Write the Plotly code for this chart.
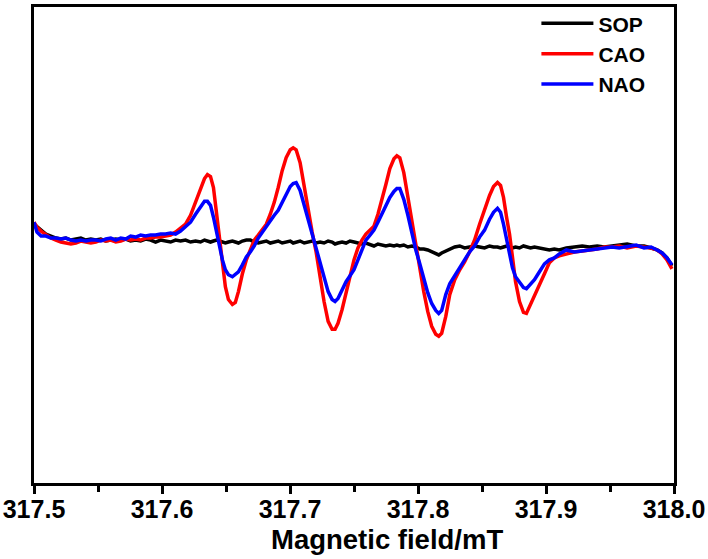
import plotly.graph_objects as go

# Magnetic field (mT), shared by the three spectra
field = [
    317.5000, 317.5023, 317.5055, 317.5093, 317.5132, 317.5171, 317.5210, 317.5249, 317.5288, 317.5327,
    317.5366, 317.5405, 317.5444, 317.5483, 317.5522, 317.5561, 317.5600, 317.5639, 317.5678, 317.5717,
    317.5755, 317.5794, 317.5833, 317.5872, 317.5911, 317.5950, 317.5989, 317.6028, 317.6067, 317.6106,
    317.6145, 317.6184, 317.6223, 317.6262, 317.6301, 317.6332, 317.6355, 317.6379, 317.6402, 317.6425,
    317.6449, 317.6472, 317.6495, 317.6519, 317.6550, 317.6573, 317.6597, 317.6628, 317.6659, 317.6690,
    317.6721, 317.6752, 317.6783, 317.6815, 317.6846, 317.6877, 317.6908, 317.6939, 317.6970, 317.7002,
    317.7025, 317.7048, 317.7079, 317.7111, 317.7142, 317.7173, 317.7204, 317.7235, 317.7266, 317.7298,
    317.7329, 317.7352, 317.7375, 317.7407, 317.7438, 317.7469, 317.7500, 317.7531, 317.7562, 317.7593,
    317.7625, 317.7656, 317.7687, 317.7718, 317.7749, 317.7780, 317.7812, 317.7835, 317.7858, 317.7889,
    317.7921, 317.7952, 317.7983, 317.8014, 317.8045, 317.8076, 317.8107, 317.8139, 317.8162, 317.8185,
    317.8217, 317.8248, 317.8287, 317.8326, 317.8364, 317.8403, 317.8442, 317.8481, 317.8520, 317.8559,
    317.8590, 317.8621, 317.8645, 317.8668, 317.8692, 317.8715, 317.8738, 317.8762, 317.8793, 317.8824,
    317.8847, 317.8879, 317.8910, 317.8949, 317.8988, 317.9026, 317.9065, 317.9104, 317.9159, 317.9221,
    317.9283, 317.9338, 317.9400, 317.9455, 317.9517, 317.9572, 317.9634, 317.9704, 317.9766, 317.9821,
    317.9868, 317.9907, 317.9945, 317.9984,
]

# EPR signal intensity (a.u.)
sop = [
    16, 13, 10, 6, 4, 2, 1, 2, 0, 1,
    2, 0, 1, 0, 1, -1, 0, 1, 0, 1,
    -1, 0, -1, 1, 0, -2, 0, -1, -2, 0,
    -1, 0, -2, -1, -2, 0, -1, -2, -1, 0,
    -1, -2, -3, -2, -1, -2, -3, -1, 0, 0,
    -2, -3, -2, -1, -3, -2, -1, -3, -2, -1,
    -3, -2, -1, -3, -2, -1, -3, -2, -3, -1,
    -2, -4, -3, -2, -3, -1, -2, -3, -4, -3,
    -5, -6, -4, -5, -6, -5, -6, -5, -6, -5,
    -7, -6, -7, -9, -9, -10, -12, -14, -15, -13,
    -11, -9, -7, -6, -8, -7, -6, -7, -8, -6,
    -7, -7, -8, -7, -6, -7, -8, -7, -8, -6,
    -7, -8, -7, -8, -9, -10, -9, -10, -8, -7,
    -6, -7, -6, -7, -6, -5, -4, -6, -6, -8,
    -10, -13, -18, -26,
]

cao = [
    18, 13, 9, 5, 2, 0, -2, -3, -4, -3,
    -1, -2, -3, -2, 0, -1, 0, -2, -1, 1,
    0, 1, 0, 2, 2, 3, 3, 4, 5, 8,
    12, 16, 25, 38, 53, 62, 66, 64, 53, 28,
    3, -24, -47, -60, -65, -63, -52, -34, -20, -10,
    0, 5, 10, 16, 26, 38, 53, 70, 83, 91,
    93, 91, 78, 53, 28, 8, -12, -37, -62, -82,
    -90, -90, -84, -70, -54, -37, -20, -8, 0, 6,
    10, 14, 26, 40, 56, 72, 82, 85, 83, 68,
    43, 18, -4, -27, -52, -72, -87, -95, -97, -94,
    -77, -55, -40, -30, -22, -12, 0, 16, 31, 45,
    54, 58, 55, 43, 23, 6, -17, -42, -62, -73,
    -74, -65, -58, -47, -34, -23, -18, -16, -14, -12,
    -11, -10, -9, -7, -7, -6, -8, -6, -7, -8,
    -10, -14, -20, -29,
]

nao = [
    18, 8, 4, 4, 2, 2, 1, 2, 0, -1,
    0, -1, 0, 0, -1, 1, 2, 0, 2, 1,
    4, 3, 5, 4, 5, 5, 6, 6, 7, 6,
    9, 13, 18, 26, 34, 39, 39, 35, 23, 8,
    -7, -20, -30, -35, -37, -35, -32, -25, -17, -12,
    -6, 2, 8, 13, 19, 25, 30, 38, 47, 54,
    57, 58, 50, 35, 18, 4, -10, -24, -39, -52,
    -60, -62, -59, -50, -42, -36, -30, -20, -9, 0,
    5, 10, 18, 27, 35, 43, 49, 52, 52, 41,
    25, 7, -10, -24, -39, -53, -64, -71, -74, -71,
    -55, -44, -36, -27, -20, -12, -6, 3, 10, 21,
    28, 32, 28, 16, 0, -16, -28, -37, -43, -48,
    -49, -45, -40, -32, -24, -20, -18, -14, -10, -12,
    -11, -10, -9, -8, -7, -8, -7, -5, -8, -7,
    -10, -13, -18, -25,
]

series = [("SOP", sop, "#000000"), ("CAO", cao, "#ff0000"), ("NAO", nao, "#0000ff")]

fig = go.Figure()
for name, vals, color in series:
    fig.add_trace(go.Scatter(
        x=field, y=vals, mode="lines", name=name,
        line=dict(color=color, width=3.5),
    ))

font_family = "Liberation Sans, Arial, sans-serif"

# axis title sits right of centre in the original, so it is placed as an annotation
fig.add_annotation(
    text="Magnetic field/mT", xref="paper", yref="paper",
    x=0.551, y=-0.119, xanchor="center", yanchor="middle", showarrow=False,
    font=dict(family=font_family, size=27.5, color="black", weight="bold"),
)

fig.update_layout(
    width=708, height=559,
    margin=dict(l=33, r=33, t=3, b=76),
    plot_bgcolor="white", paper_bgcolor="white",
    showlegend=True,
    legend=dict(
        x=0.785, y=1.008, xanchor="left", yanchor="top",
        bgcolor="rgba(0,0,0,0)",
        font=dict(family=font_family, size=21, color="black", weight="bold"),
        itemwidth=52,
        tracegroupgap=0,
    ),
    xaxis=dict(
        range=[317.5, 318.0],
        tickmode="array",
        tickvals=[317.5, 317.6, 317.7, 317.8, 317.9, 318.0],
        ticktext=["317.5", "317.6", "317.7", "317.8", "317.9", "318.0"],
        ticks="outside", ticklen=8, tickwidth=2.5, tickcolor="black",
        minor=dict(dtick=0.05, ticks="outside", ticklen=6, tickwidth=2.5, tickcolor="black", tick0=317.5),
        showline=True, linewidth=3, linecolor="black", mirror=True,
        showgrid=False, zeroline=False,
        tickfont=dict(family=font_family, size=25, color="black", weight="bold"),
        ticklabelstandoff=-6,
    ),
    yaxis=dict(
        range=[-245, 235],
        showticklabels=False, ticks="",
        showline=True, linewidth=3, linecolor="black", mirror=True,
        showgrid=False, zeroline=False,
    ),
)

fig.write_html("out.html", config={"displayModeBar": False},
               post_script="document.body.style.margin='0';")
